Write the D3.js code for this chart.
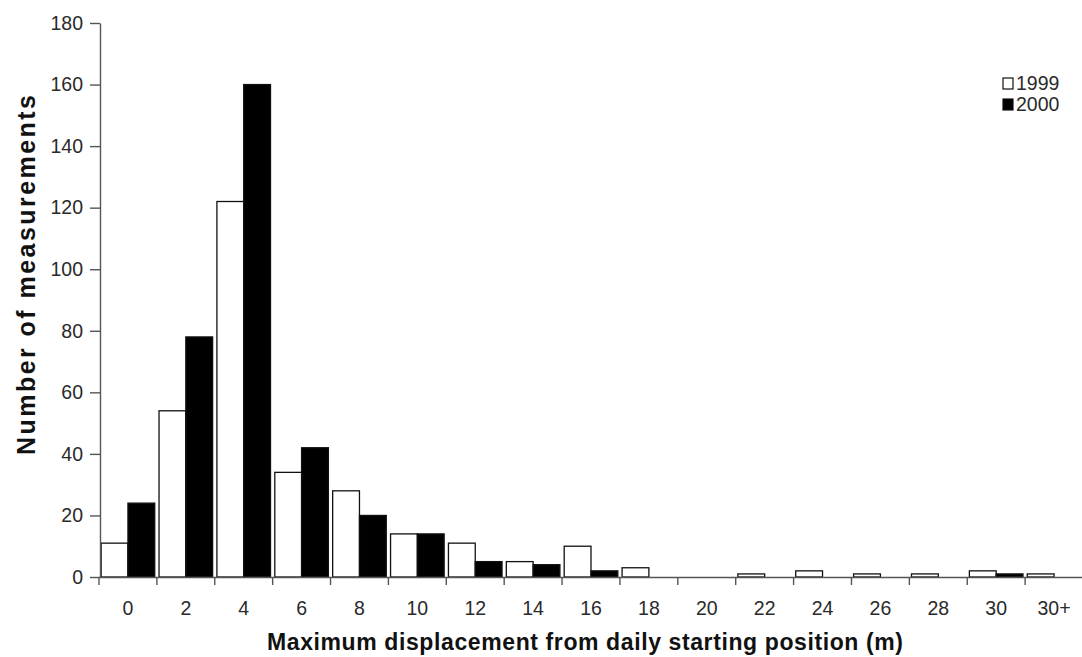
<!DOCTYPE html>
<html><head><meta charset="utf-8">
<script src="https://cdn.jsdelivr.net/npm/d3@7"></script>
<style>body{margin:0;background:#fff;} svg{display:block;font-family:"Liberation Sans",Arial,sans-serif;}</style>
</head><body>
<svg id="c" width="1082" height="657"></svg>
<script>
const categories = ["0","2","4","6","8","10","12","14","16","18","20","22","24","26","28","30","30+"];
const values1999 = [11,54,122,34,28,14,11,5,10,3,0,1,2,1,1,2,1];
const values2000 = [24,78,160,42,20,14,5,4,2,0,0,0,0,0,0,1,0];
const yTicks = [0,20,40,60,80,100,120,140,160,180];
const seriesNames = ["1999","2000"];

(function(){
const svg = d3.select("#c");
const mLeft = 99, mRight = 1083, mTop = 23, mBottom = 577;
const x = d3.scaleBand().domain(categories).range([mLeft, mRight]).paddingInner(0).paddingOuter(0);
const y = d3.scaleLinear().domain([0,180]).range([mBottom, mTop]);
const inner = d3.scaleBand().domain(seriesNames).range([0, x.bandwidth()]).paddingInner(0).paddingOuter(0.08);
const font = "Liberation Sans, Arial, sans-serif";

const g = svg.append("g");
const data = categories.map((c,i)=>({c, v:[values1999[i], values2000[i]]}));
const groups = g.selectAll("g.grp").data(data).join("g").attr("transform", d=>`translate(${x(d.c)},0)`);
groups.selectAll("rect").data(d=>d.v.map((v,j)=>({v, s:seriesNames[j]}))).join("rect")
  .attr("x", d=>inner(d.s)).attr("width", inner.bandwidth())
  .attr("y", d=>y(d.v)).attr("height", d=>mBottom - y(d.v))
  .attr("fill", d=>d.s==="1999" ? "#fff" : "#000")
  .attr("stroke", "#111").attr("stroke-width", 1.3);

// y axis
const ya = svg.append("g").attr("transform", `translate(${mLeft+1},0)`)
  .call(d3.axisLeft(y).tickValues(yTicks).tickSize(10).tickSizeOuter(0).tickPadding(7).tickFormat(d3.format("d")));
ya.select(".domain").attr("stroke","#555").attr("stroke-width",1.4);
ya.selectAll(".tick line").attr("stroke","#555").attr("stroke-width",1.4);
ya.selectAll("text").attr("font-size","19.5px").attr("fill","#2a2a2a").attr("font-family",font);

// x axis
const xa = svg.append("g").attr("transform", `translate(0,${mBottom})`)
  .call(d3.axisBottom(x).tickSize(0).tickSizeOuter(0).tickPadding(24));
xa.select(".domain").attr("stroke","#555").attr("stroke-width",1.4);
xa.selectAll("text").attr("font-size","19.5px").attr("fill","#2a2a2a").attr("font-family",font);
const bounds = categories.map(c=>x(c));
xa.selectAll("line.bt").data(bounds).join("line").attr("class","bt")
  .attr("x1",d=>d).attr("x2",d=>d).attr("y1",0).attr("y2",8)
  .attr("stroke","#555").attr("stroke-width",1.4);

// titles
svg.append("text").attr("x", 267).attr("y", 650).attr("text-anchor","start")
  .attr("font-size","23px").attr("font-weight","bold").attr("fill","#111").attr("font-family",font)
  .attr("textLength", 636).attr("lengthAdjust","spacing")
  .text("Maximum displacement from daily starting position (m)");
svg.append("text").attr("transform","translate(35,455) rotate(-90)").attr("text-anchor","start")
  .attr("font-size","25px").attr("font-weight","bold").attr("fill","#111").attr("font-family",font)
  .attr("textLength", 360).attr("lengthAdjust","spacing")
  .text("Number of measurements");

// legend
const lg = svg.append("g").attr("transform","translate(1003,78)");
seriesNames.forEach((s,i)=>{
  lg.append("rect").attr("x",0).attr("y",i*21).attr("width",10).attr("height",11)
    .attr("fill", s==="1999"?"#fff":"#000").attr("stroke","#111").attr("stroke-width",1.2);
  lg.append("text").attr("x",13).attr("y",i*21+12).attr("font-size","19.5px").attr("fill","#2a2a2a").attr("font-family",font).text(s);
});
})();
</script>
</body></html>
